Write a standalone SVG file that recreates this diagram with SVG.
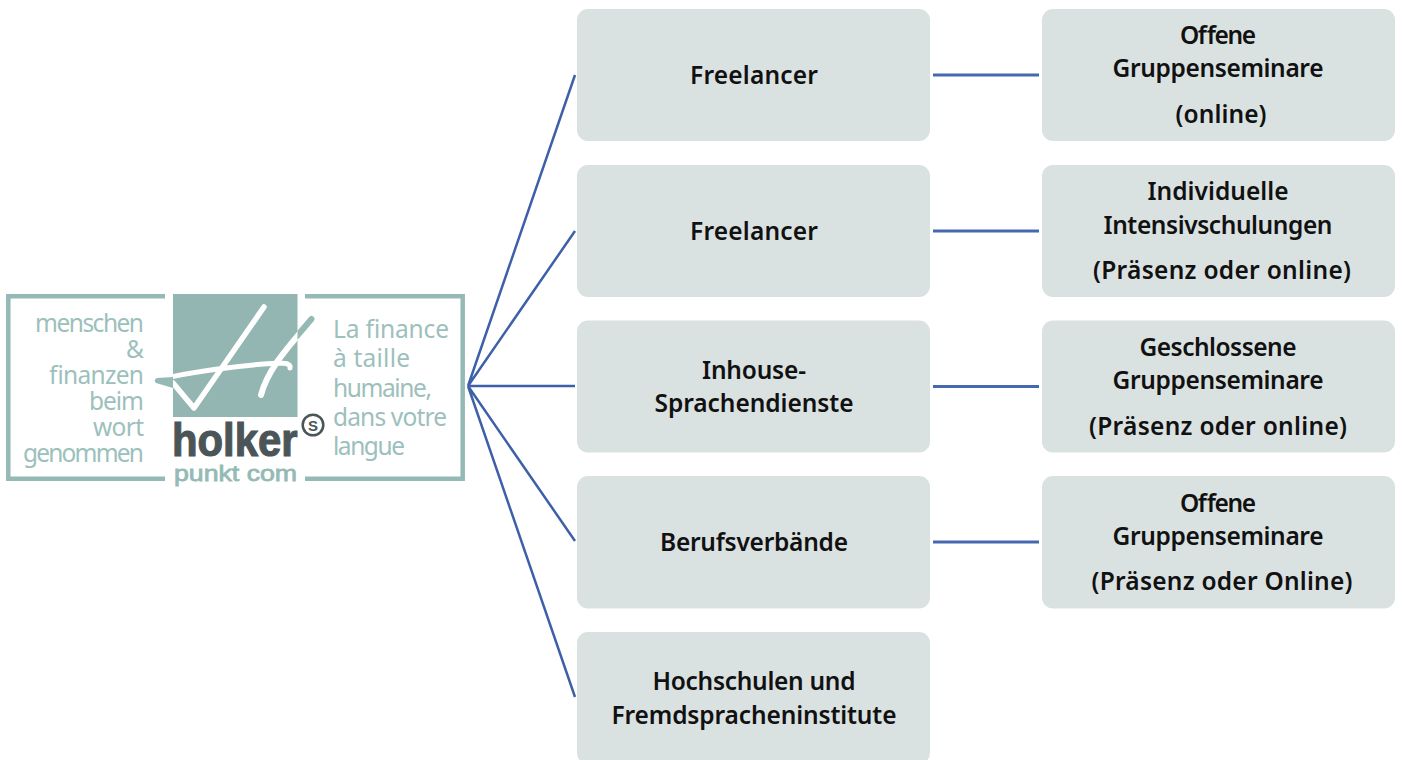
<svg xmlns="http://www.w3.org/2000/svg" width="1402" height="760" viewBox="0 0 1402 760">
<style>
.box{fill:#dae2e1}
.t{font-family:"Noto Sans","DejaVu Sans",sans-serif;font-size:24.500px;font-stretch:90%;font-weight:600;fill:#111;text-anchor:middle}
.con{fill:none;stroke:#3e60a8;stroke-width:2.500}
.hc{fill:none;stroke:#4668b0;stroke-width:3}
.l{font-family:"Noto Sans","DejaVu Sans",sans-serif;font-size:24.500px;font-stretch:90%;fill:#9cc0bc}
.e{text-anchor:end}
.fr{fill:none;stroke:#95bab6;stroke-width:4.500}
.dk{fill:#4b5558;font-family:"Liberation Sans",sans-serif;font-weight:700}
</style>
<defs><clipPath id="sq"><rect x="173" y="294" width="124.500" height="123"/></clipPath></defs>
<rect width="1402" height="760" fill="#fff"/>
<g id="connectors">
<path class="con" d="M468 386L575 75M468 386L575 231M468 386H575M468 386L575 541M468 386L575 697"/>
<path class="hc" d="M933 75H1039M933 231H1039M933 386.500H1039M933 542H1039"/>
</g>
<g id="logo">
<path class="fr" d="M165 296.300H8.300V478.800H165M305 296.300H462.700V478.800H305"/>
<rect x="173" y="294" width="124.500" height="123" fill="#93b6b3"/>
<path d="M173 377L157 378Q153 380 156 383L173 388Z" fill="#95bab6"/>
<path d="M311.500 319L297 336" fill="none" stroke="#95bab6" stroke-width="6" stroke-linecap="round"/>
<g id="signature" clip-path="url(#sq)" fill="none" stroke="#fff" stroke-linecap="round" stroke-linejoin="round">
<path d="M264 307L194 408L173 383" stroke-width="5.500"/>
<path d="M157 380C190 372 240 365 280 363Q291 363 290 368" stroke-width="5"/>
<path d="M311 320C290 345 268 368 261 395" stroke-width="6"/>
</g>
<text class="l e" x="144" y="332" textLength="109" lengthAdjust="spacing">menschen</text>
<text class="l e" x="144" y="358">&amp;</text>
<text class="l e" x="144" y="384" textLength="95" lengthAdjust="spacing">finanzen</text>
<text class="l e" x="144" y="410" textLength="55" lengthAdjust="spacing">beim</text>
<text class="l e" x="144" y="436" textLength="51" lengthAdjust="spacing">wort</text>
<text class="l e" x="144" y="462" textLength="121" lengthAdjust="spacing">genommen</text>
<text class="l" x="333" y="338" textLength="116" lengthAdjust="spacing">La finance</text>
<text class="l" x="333" y="367" textLength="77" lengthAdjust="spacing">à taille</text>
<text class="l" x="333" y="397" textLength="99" lengthAdjust="spacing">humaine,</text>
<text class="l" x="333" y="426" textLength="114" lengthAdjust="spacing">dans votre</text>
<text class="l" x="333" y="455" textLength="72" lengthAdjust="spacing">langue</text>
<text class="dk" x="172" y="456" textLength="125.500" lengthAdjust="spacingAndGlyphs" style="font-size:46px;stroke:#4b5558;stroke-width:1.200">holker</text>
<text x="174" y="481" textLength="123" lengthAdjust="spacingAndGlyphs" style="font-family:'Liberation Sans',sans-serif;font-size:22px;font-weight:400;fill:#95bab6;stroke:#95bab6;stroke-width:.8">punkt com</text>
<circle cx="313" cy="425" r="10.300" fill="none" stroke="#4b5558" stroke-width="2.500"/>
<text class="dk" x="313" y="430.500" text-anchor="middle" style="font-size:15px">S</text>
</g>
<g id="n1"><rect class="box" x="577" y="9" width="353" height="132" rx="11"/><text class="t" x="754" y="84" textLength="128" lengthAdjust="spacing">Freelancer</text></g>
<g id="n2"><rect class="box" x="577" y="165" width="353" height="132" rx="11"/><text class="t" x="754" y="240" textLength="128" lengthAdjust="spacing">Freelancer</text></g>
<g id="n3"><rect class="box" x="577" y="320.500" width="353" height="132" rx="11"/><text class="t" x="754" y="379" textLength="104" lengthAdjust="spacing">Inhouse-</text><text class="t" x="754" y="412" textLength="199" lengthAdjust="spacing">Sprachendienste</text></g>
<g id="n4"><rect class="box" x="577" y="476" width="353" height="132.500" rx="11"/><text class="t" x="754" y="551" textLength="188" lengthAdjust="spacing">Berufsverbände</text></g>
<g id="n5"><rect class="box" x="577" y="632" width="353" height="132" rx="11"/><text class="t" x="754" y="690" textLength="203" lengthAdjust="spacing">Hochschulen und</text><text class="t" x="754" y="724" textLength="285" lengthAdjust="spacing">Fremdspracheninstitute</text></g>
<g id="n6"><rect class="box" x="1042" y="9" width="353" height="132" rx="11"/><text class="t" x="1218" y="44" textLength="76" lengthAdjust="spacing">Offene</text><text class="t" x="1218" y="77" textLength="211" lengthAdjust="spacing">Gruppenseminare</text><text class="t" x="1221" y="123" textLength="91" lengthAdjust="spacing">(online)</text></g>
<g id="n7"><rect class="box" x="1042" y="165" width="353" height="132" rx="11"/><text class="t" x="1218" y="200" textLength="141" lengthAdjust="spacing">Individuelle</text><text class="t" x="1218" y="234" textLength="229" lengthAdjust="spacing">Intensivschulungen</text><text class="t" x="1222" y="279" textLength="258" lengthAdjust="spacing">(Präsenz oder online)</text></g>
<g id="n8"><rect class="box" x="1042" y="320.500" width="353" height="132" rx="11"/><text class="t" x="1218" y="356" textLength="157" lengthAdjust="spacing">Geschlossene</text><text class="t" x="1218" y="389" textLength="211" lengthAdjust="spacing">Gruppenseminare</text><text class="t" x="1218" y="435" textLength="258" lengthAdjust="spacing">(Präsenz oder online)</text></g>
<g id="n9"><rect class="box" x="1042" y="476" width="353" height="132.500" rx="11"/><text class="t" x="1218" y="512" textLength="76" lengthAdjust="spacing">Offene</text><text class="t" x="1218" y="545" textLength="211" lengthAdjust="spacing">Gruppenseminare</text><text class="t" x="1222" y="590" textLength="261" lengthAdjust="spacing">(Präsenz oder Online)</text></g>
</svg>
